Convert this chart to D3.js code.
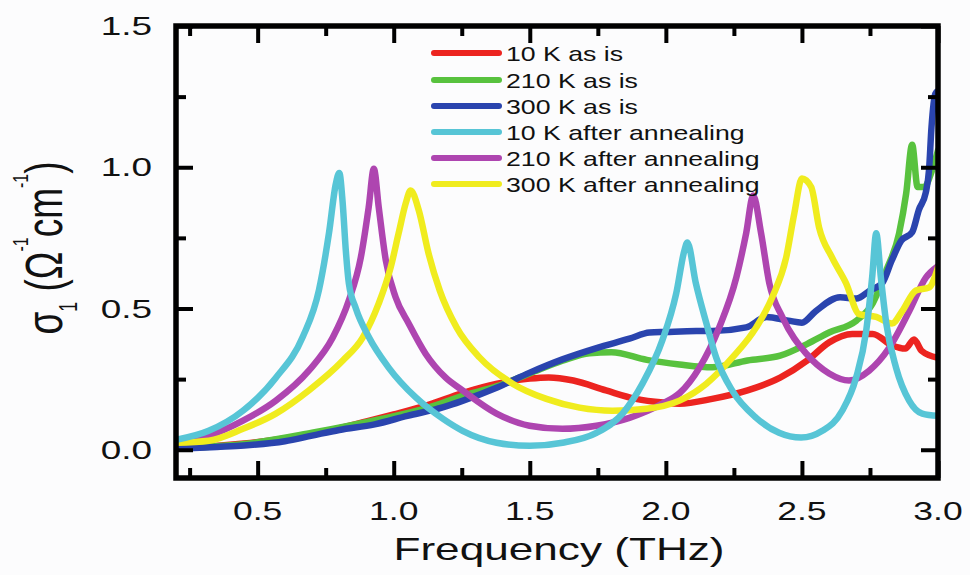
<!DOCTYPE html>
<html>
<head>
<meta charset="utf-8">
<script src="https://cdn.jsdelivr.net/npm/d3@7/dist/d3.min.js"></script>
<style>
  html, body { margin: 0; padding: 0; background: #fcfcfd; }
  svg { display: block; }
  text { font-family: "Liberation Sans", Arial, sans-serif; fill: #111; }
</style>
</head>
<body>
<svg id="chart" width="970" height="575"></svg>
<script>
// ---------- data (frequency THz, sigma_1 Ω^-1 cm^-1) ----------
const red10AsIs = [[0.2,0.005],[0.3,0.01],[0.45,0.022],[0.6,0.04],[0.75,0.065],[0.9,0.1],[1.0,0.125],[1.13,0.16],[1.25,0.2],[1.38,0.234],[1.5,0.252],[1.57,0.256],[1.66,0.245],[1.78,0.21],[1.89,0.18],[1.99,0.167],[2.05,0.163],[2.17,0.18],[2.3,0.21],[2.42,0.255],[2.52,0.316],[2.6,0.38],[2.685,0.41],[2.76,0.41],[2.83,0.37],[2.88,0.358],[2.912,0.39],[2.94,0.35],[3.0,0.325]];
const green210AsIs = [[0.2,0.005],[0.45,0.02],[0.7,0.06],[0.95,0.108],[1.13,0.15],[1.25,0.19],[1.38,0.225],[1.5,0.27],[1.62,0.315],[1.72,0.342],[1.8,0.345],[1.93,0.318],[2.05,0.302],[2.17,0.292],[2.3,0.316],[2.42,0.333],[2.52,0.375],[2.6,0.415],[2.7,0.457],[2.76,0.518],[2.81,0.635],[2.857,0.766],[2.883,0.907],[2.905,1.08],[2.925,0.93],[2.95,0.93],[2.975,0.98],[3.0,1.06]];
const blue300AsIs = [[0.2,0.003],[0.35,0.01],[0.45,0.015],[0.6,0.03],[0.7,0.05],[0.8,0.07],[0.93,0.09],[1.05,0.12],[1.18,0.15],[1.25,0.172],[1.38,0.22],[1.5,0.273],[1.62,0.32],[1.745,0.36],[1.866,0.393],[1.94,0.415],[2.0,0.417],[2.112,0.42],[2.17,0.42],[2.295,0.433],[2.37,0.47],[2.45,0.457],[2.5,0.45],[2.55,0.49],[2.64,0.54],[2.7,0.535],[2.75,0.564],[2.795,0.59],[2.83,0.67],[2.865,0.74],[2.905,0.77],[2.93,0.85],[2.955,0.91],[2.967,0.99],[2.976,1.14],[2.99,1.26],[3.0,1.27]];
const cyan10Annealed = [[0.2,0.035],[0.32,0.067],[0.446,0.138],[0.567,0.255],[0.666,0.40],[0.725,0.564],[0.762,0.766],[0.787,0.94],[0.80,0.98],[0.812,0.88],[0.824,0.705],[0.835,0.59],[0.861,0.50],[0.908,0.40],[0.982,0.29],[1.081,0.185],[1.18,0.11],[1.253,0.067],[1.378,0.025],[1.5,0.014],[1.62,0.025],[1.745,0.06],[1.84,0.127],[1.914,0.234],[1.987,0.387],[2.038,0.553],[2.068,0.705],[2.079,0.734],[2.11,0.59],[2.149,0.447],[2.185,0.326],[2.244,0.209],[2.332,0.113],[2.416,0.06],[2.497,0.043],[2.575,0.067],[2.648,0.138],[2.699,0.255],[2.736,0.42],[2.758,0.61],[2.773,0.766],[2.79,0.61],[2.81,0.447],[2.846,0.29],[2.894,0.174],[2.942,0.128],[3.0,0.12]];
const magenta210Annealed = [[0.2,0.027],[0.321,0.05],[0.446,0.103],[0.567,0.174],[0.688,0.28],[0.776,0.397],[0.835,0.528],[0.879,0.68],[0.908,0.858],[0.927,0.995],[0.945,0.858],[0.971,0.67],[1.007,0.54],[1.055,0.447],[1.117,0.34],[1.191,0.255],[1.253,0.21],[1.378,0.128],[1.499,0.085],[1.62,0.074],[1.745,0.085],[1.866,0.113],[1.987,0.163],[2.05,0.2],[2.123,0.29],[2.196,0.433],[2.259,0.61],[2.295,0.766],[2.321,0.90],[2.35,0.766],[2.38,0.59],[2.428,0.47],[2.516,0.34],[2.6,0.27],[2.673,0.245],[2.747,0.28],[2.82,0.36],[2.894,0.49],[2.956,0.61],[3.0,0.65]];
const yellow300Annealed = [[0.2,0.025],[0.321,0.032],[0.446,0.074],[0.567,0.128],[0.688,0.21],[0.813,0.316],[0.886,0.397],[0.945,0.518],[0.989,0.646],[1.018,0.766],[1.044,0.872],[1.062,0.918],[1.092,0.848],[1.128,0.695],[1.169,0.564],[1.231,0.433],[1.316,0.326],[1.437,0.234],[1.561,0.18],[1.683,0.149],[1.804,0.138],[1.928,0.145],[2.05,0.174],[2.149,0.234],[2.244,0.326],[2.332,0.433],[2.391,0.54],[2.442,0.68],[2.472,0.837],[2.5,0.96],[2.534,0.93],[2.563,0.787],[2.611,0.68],[2.662,0.59],[2.71,0.48],[2.773,0.47],[2.831,0.447],[2.868,0.49],[2.919,0.564],[2.967,0.574],[3.0,0.645]];

const seriesNames = ["10 K as is","210 K as is","300 K as is","10 K after annealing","210 K after annealing","300 K after annealing"];
const seriesColors = ["#ec2420","#58c23e","#2a44ae","#57c5d6","#ae45b0","#f0ec1e"];
const seriesData = [red10AsIs, green210AsIs, blue300AsIs, cyan10Annealed, magenta210Annealed, yellow300Annealed];
const drawOrder = [0, 1, 2, 4, 5, 3];

const xMajorTicks = [0.5, 1.0, 1.5, 2.0, 2.5, 3.0];
const xMinorTicks = [0.25, 0.75, 1.25, 1.75, 2.25, 2.75];
const yMajorTicks = [0.0, 0.5, 1.0, 1.5];
const yMinorTicks = [0.25, 0.75, 1.25];
const xTickLabels = ["0.5","1.0","1.5","2.0","2.5","3.0"];
const yTickLabels = ["0.0","0.5","1.0","1.5"];

// ---------- layout ----------
const svg = d3.select("#chart");
const L = 176, R = 938, T = 26, B = 478;
const x = d3.scaleLinear().domain([0.2, 3.0]).range([L, R]);
const y = d3.scaleLinear().domain([-0.1, 1.5]).range([B, T]);

svg.append("rect").attr("width", 970).attr("height", 575).attr("fill", "#fcfcfd");

svg.append("defs").append("clipPath").attr("id", "plotclip")
  .append("rect").attr("x", L).attr("y", T).attr("width", R - L).attr("height", B - T);

// curves
const line = d3.line().x(d => x(d[0])).y(d => y(d[1])).curve(d3.curveMonotoneX);
const gLines = svg.append("g").attr("clip-path", "url(#plotclip)");
drawOrder.forEach(i => {
  gLines.append("path")
    .attr("d", line(seriesData[i]))
    .attr("fill", "none")
    .attr("stroke", seriesColors[i])
    .attr("stroke-width", 6.5)
    .attr("stroke-linejoin", "round")
    .attr("stroke-linecap", "round");
});

// ticks (inward) on all four sides
function tickAxis(axis, transform) {
  const g = svg.append("g").attr("transform", transform).call(axis);
  g.select(".domain").remove();
  g.selectAll("line").attr("stroke", "#000").attr("stroke-width", 4);
  g.selectAll("text").remove();
}
tickAxis(d3.axisBottom(x).tickValues(xMajorTicks).tickSize(-17).tickFormat(""), `translate(0,${B})`);
tickAxis(d3.axisBottom(x).tickValues(xMinorTicks).tickSize(-10).tickFormat(""), `translate(0,${B})`);
tickAxis(d3.axisTop(x).tickValues(xMajorTicks).tickSize(-17).tickFormat(""), `translate(0,${T})`);
tickAxis(d3.axisTop(x).tickValues(xMinorTicks).tickSize(-10).tickFormat(""), `translate(0,${T})`);
tickAxis(d3.axisLeft(y).tickValues(yMajorTicks).tickSize(-17).tickFormat(""), `translate(${L},0)`);
tickAxis(d3.axisLeft(y).tickValues(yMinorTicks).tickSize(-10).tickFormat(""), `translate(${L},0)`);
tickAxis(d3.axisRight(y).tickValues(yMajorTicks).tickSize(-17).tickFormat(""), `translate(${R},0)`);
tickAxis(d3.axisRight(y).tickValues(yMinorTicks).tickSize(-10).tickFormat(""), `translate(${R},0)`);

// frame
svg.append("rect").attr("x", L).attr("y", T).attr("width", R - L).attr("height", B - T)
  .attr("fill", "none").attr("stroke", "#000").attr("stroke-width", 5.5);

// tick labels
svg.append("g").selectAll("text").data(xMajorTicks).join("text")
  .attr("transform", d => `translate(${x(d)},520) scale(1.42,1)`)
  .attr("text-anchor", "middle").attr("font-size", 25)
  .text((d, i) => xTickLabels[i]);
svg.append("g").selectAll("text").data(yMajorTicks).join("text")
  .attr("transform", d => `translate(152,${y(d) + 9}) scale(1.42,1)`)
  .attr("text-anchor", "end").attr("font-size", 26)
  .text((d, i) => yTickLabels[i]);

// axis titles
svg.append("text")
  .attr("transform", "translate(559,560) scale(1.38,1)")
  .attr("text-anchor", "middle").attr("font-size", 32)
  .text("Frequency (THz)");

const yt = svg.append("text")
  .attr("transform", "translate(62,248) rotate(-90) scale(1,1.4)")
  .attr("text-anchor", "middle").attr("font-size", 37);
yt.append("tspan").text("σ");
yt.append("tspan").attr("font-size", 18).attr("dy", 11).text("1");
yt.append("tspan").attr("dy", -11).text(" (Ω");
yt.append("tspan").attr("font-size", 16).attr("dy", -24).text("-1");
yt.append("tspan").attr("dy", 24).text("cm");
yt.append("tspan").attr("font-size", 16).attr("dy", -24).text("-1");
yt.append("tspan").attr("dy", 24).text(")");

// legend
const legendRowY = [53, 80, 106, 132, 158, 184];
const lg = svg.append("g");
seriesNames.forEach((name, i) => {
  lg.append("line")
    .attr("x1", 434).attr("x2", 499)
    .attr("y1", legendRowY[i]).attr("y2", legendRowY[i])
    .attr("stroke", seriesColors[i]).attr("stroke-width", 6).attr("stroke-linecap", "round");
  lg.append("text")
    .attr("transform", `translate(506,${legendRowY[i] + 7.5}) scale(1.27,1)`)
    .attr("font-size", 21)
    .text(name);
});
</script>
</body>
</html>
